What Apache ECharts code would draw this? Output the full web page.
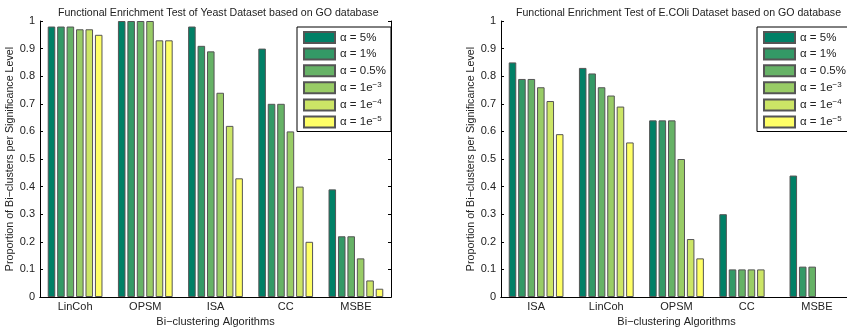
<!DOCTYPE html>
<html>
<head>
<meta charset="utf-8">
<script src="https://cdn.jsdelivr.net/npm/echarts@6/dist/echarts.min.js"></script>
<style>
  html, body { margin: 0; padding: 0; background: #fff; }
  #main { width: 847px; height: 329px; }
</style>
</head>
<body>
<div id="main"></div>
<script>
// 两个数据集的类别
const yeastCats = ['LinCoh', 'OPSM', 'ISA', 'CC', 'MSBE'];
const ecoliCats = ['ISA', 'LinCoh', 'OPSM', 'CC', 'MSBE'];
const levelNames = ['α = 5%', 'α = 1%', 'α = 0.5%', 'α = 1e-3', 'α = 1e-4', 'α = 1e-5'];
const levelColors = ['#008066', '#339966', '#66b266', '#99cc66', '#cce566', '#ffff66'];

// Yeast, 每个显著性水平一组
const yeast5 = [0.98, 1.00, 0.98, 0.90, 0.39];
const yeast1 = [0.98, 1.00, 0.91, 0.70, 0.22];
const yeast05 = [0.98, 1.00, 0.89, 0.70, 0.22];
const yeastE3 = [0.97, 1.00, 0.74, 0.60, 0.14];
const yeastE4 = [0.97, 0.93, 0.62, 0.40, 0.06];
const yeastE5 = [0.95, 0.93, 0.43, 0.20, 0.03];

// E.COli (null = 没有柱子)
const ecoli5 = [0.85, 0.83, 0.64, 0.30, 0.44];
const ecoli1 = [0.79, 0.81, 0.64, 0.10, 0.11];
const ecoli05 = [0.79, 0.76, 0.64, 0.10, 0.11];
const ecoliE3 = [0.76, 0.73, 0.50, 0.10, null];
const ecoliE4 = [0.71, 0.69, 0.21, 0.10, null];
const ecoliE5 = [0.59, 0.56, 0.14, null, null];

const yTicks = [0, 0.1, 0.2, 0.3, 0.4, 0.5, 0.6, 0.7, 0.8, 0.9, 1];

const yeastData = [yeast5, yeast1, yeast05, yeastE3, yeastE4, yeastE5];
const ecoliData = [ecoli5, ecoli1, ecoli05, ecoliE3, ecoliE4, ecoliE5];

const FONT = 'Liberation Sans, Arial, sans-serif';
const textCol = '#222';

function makeGrid(left) {
  return { left: left, width: 351, top: 21, height: 276, outerBoundsMode: 'none', containLabel: false };
}

function bottomAxis(idx, cats) {
  return {
    type: 'category', gridIndex: idx, data: cats, position: 'bottom',
    name: 'Bi−clustering Algorithms', nameLocation: 'middle', nameGap: 16,
    nameTextStyle: { fontFamily: FONT, fontSize: 11, color: textCol },
    axisLine: { lineStyle: { color: '#000', width: 1 } },
    axisTick: { alignWithLabel: true, inside: true, length: 3, lineStyle: { color: '#000' } },
    axisLabel: { fontFamily: FONT, fontSize: 11, color: textCol, margin: 4 },
    splitLine: { show: false }
  };
}

function topAxis(idx, cats) {
  return {
    type: 'category', gridIndex: idx, data: cats, position: 'top',
    axisLine: { lineStyle: { color: '#000', width: 1 } },
    axisTick: { alignWithLabel: true, inside: true, length: 3, lineStyle: { color: '#000' } },
    axisLabel: { show: false }, splitLine: { show: false }
  };
}

function leftAxis(idx) {
  return {
    type: 'value', gridIndex: idx, min: 0, max: 1, interval: 0.1, position: 'left',
    name: 'Proportion of Bi−clusters per Significance Level', nameLocation: 'middle', nameGap: 22,
    nameTextStyle: { fontFamily: FONT, fontSize: 10.7, color: textCol },
    axisLine: { show: true, lineStyle: { color: '#000', width: 1 } },
    axisTick: { show: true, inside: true, length: 3, lineStyle: { color: '#000' } },
    axisLabel: {
      fontFamily: FONT, fontSize: 11, color: textCol, margin: 5,
      formatter: v => {
        let t = yTicks.find(x => Math.abs(x - v) < 1e-6);
        return t === undefined ? '' : String(t);
      }
    },
    splitLine: { show: false }
  };
}

function rightAxis(idx) {
  return {
    type: 'value', gridIndex: idx, min: 0, max: 1, interval: 0.1, position: 'right',
    axisLine: { show: true, lineStyle: { color: '#000', width: 1 } },
    axisTick: { show: true, inside: true, length: 3, lineStyle: { color: '#000' } },
    axisLabel: { show: false }, splitLine: { show: false }
  };
}

function makeSeries(dataSets, axisIdx) {
  return dataSets.map((d, i) => ({
    name: levelNames[i],
    type: 'bar',
    xAxisIndex: axisIdx, yAxisIndex: axisIdx,
    data: d,
    barGap: '25%',
    barCategoryGap: '22%',
    itemStyle: { color: levelColors[i], borderColor: '#555', borderWidth: 1 }
  }));
}

function legendFmt(name) {
  let m = name.match(/^(α = 1e)(-\d)$/);
  if (m) return '{b|' + m[1] + '}{s|' + m[2].replace('-', '−') + '}';
  return '{b|' + name + '}';
}

function makeLegend(left) {
  return {
    orient: 'vertical', left: left, top: 27,
    data: levelNames,
    backgroundColor: '#fff',
    borderColor: '#000', borderWidth: 1,
    padding: [4, 5, 3, 6],
    itemWidth: 31, itemHeight: 11, itemGap: 3.6,
    icon: 'rect',
    formatter: legendFmt,
    textStyle: {
      fontFamily: FONT, color: textCol,
      rich: {
        b: { fontFamily: FONT, fontSize: 11.5, color: textCol, lineHeight: 12 },
        s: { fontFamily: FONT, fontSize: 8, color: textCol, verticalAlign: 'top', padding: [0, 0, 6, 0] }
      }
    },
    selectedMode: false
  };
}

const chart = echarts.init(document.getElementById('main'), null, { renderer: 'canvas' });

const option = {
  animation: false,
  backgroundColor: '#fff',
  title: [
    { text: 'Functional Enrichment Test of Yeast Dataset based on GO database', left: 53, top: 3,
      textStyle: { fontFamily: FONT, fontSize: 10.6, fontWeight: 'normal', color: textCol } },
    { text: 'Functional Enrichment Test of E.COli Dataset based on GO database', left: 511, top: 3,
      textStyle: { fontFamily: FONT, fontSize: 10.6, fontWeight: 'normal', color: textCol } }
  ],
  grid: [makeGrid(40), makeGrid(501)],
  xAxis: [bottomAxis(0, yeastCats), bottomAxis(1, ecoliCats), topAxis(0, yeastCats), topAxis(1, ecoliCats)],
  yAxis: [leftAxis(0), leftAxis(1), rightAxis(0), rightAxis(1)],
  legend: [makeLegend(297), makeLegend(757)],
  series: [].concat(makeSeries(yeastData, 0), makeSeries(ecoliData, 1))
};

chart.setOption(option);
</script>
</body>
</html>
